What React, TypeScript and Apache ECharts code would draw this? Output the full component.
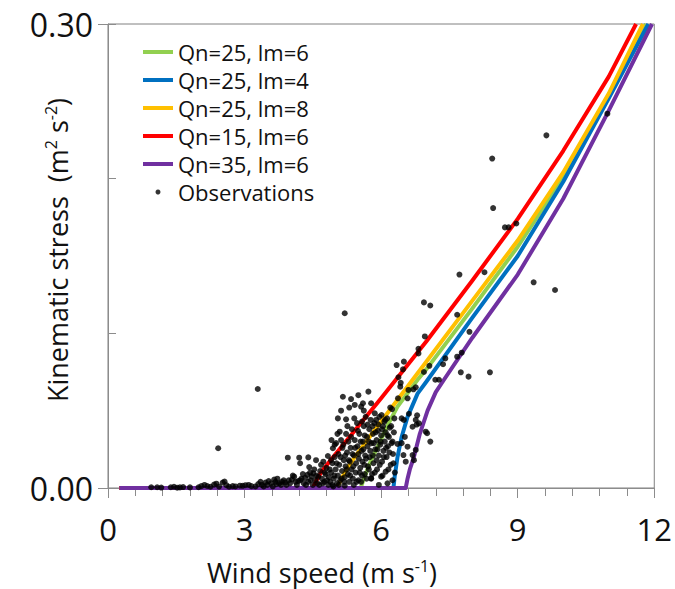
import React, { useEffect, useRef } from "react";
import * as echarts from "echarts";

// ---- Model curves (wind speed m/s, kinematic stress m2/s2) ----
const greenWind = [0.25, 5.55, 5.62, 5.75, 5.93, 6.15, 6.36, 6.8, 7, 8, 9, 10, 11, 11.82];
const greenStress = [0, 0, 0.006, 0.016, 0.027, 0.041, 0.0526, 0.07, 0.077, 0.116, 0.156, 0.201, 0.254, 0.3];

const blueWind = [0.25, 6.27, 6.3, 6.36, 6.45, 6.58, 6.8, 7, 8, 9, 10, 11, 11.87];
const blueStress = [0, 0, 0.008, 0.02, 0.033, 0.046, 0.061, 0.069, 0.11, 0.15, 0.198, 0.252, 0.3];

const yellowWind = [0.25, 5.02, 5.08, 5.2, 5.42, 6, 7, 8, 9, 10, 11, 11.75];
const yellowStress = [0, 0, 0.003, 0.01, 0.02, 0.043, 0.082, 0.121, 0.16, 0.204, 0.255, 0.3];

const redWind = [0.25, 4.5, 4.6, 4.7, 5, 6, 7, 8, 9, 10, 11, 11.6];
const redStress = [0, 0, 0.006, 0.011, 0.022, 0.058, 0.095, 0.134, 0.174, 0.218, 0.266, 0.3];

const purpleWind = [0.25, 6.54, 6.58, 6.63, 6.72, 6.85, 7.02, 7.2, 7.38, 8, 9, 10, 11, 11.95];
const purpleStress = [0, 0, 0.006, 0.012, 0.02, 0.035, 0.05, 0.062, 0.07, 0.097, 0.138, 0.187, 0.244, 0.3];

const seriesNames = ["Qn=25, lm=6", "Qn=25, lm=4", "Qn=25, lm=8", "Qn=15, lm=6", "Qn=35, lm=6"];
const seriesColors = ["#92D050", "#0070C0", "#FFC000", "#FF0000", "#7030A0"];

// ---- Observations ----
const obsWind = [
  0.95, 1.08, 1.17, 1.38, 1.45, 1.52, 1.58, 1.65, 1.8, 1.99, 2.05, 2.12, 2.18, 2.25, 2.33, 2.38, 2.44, 2.42, 2.52, 2.56,
  2.6, 2.66, 2.74, 2.8, 2.9, 2.96, 3.02, 3.09, 3.15, 3.24, 3.29, 3.3, 3.38, 3.46, 3.53, 3.58, 3.65, 3.7, 3.76, 3.82,
  3.89, 3.95, 3.97, 4.04, 4.09, 4.12, 4.18, 4.2, 4.22, 4.25, 4.3, 4.33, 4.38, 4.4, 4.42, 4.45, 4.47, 4.51, 4.55, 4.57,
  4.6, 4.62, 4.66, 4.7, 4.73, 4.75, 4.78, 4.8, 4.83, 4.85,
  4.88, 4.9, 4.91, 4.93, 4.94, 4.96, 4.98, 5.0, 5.01, 5.03, 5.05, 5.06, 5.08, 5.09, 5.1, 5.12, 5.14, 5.15, 5.16, 5.18,
  5.2, 5.2, 5.22, 5.23, 5.23, 5.25, 5.27, 5.28, 5.3, 5.31, 5.33, 5.34, 5.35, 5.36, 5.38, 5.4, 5.42, 5.42, 5.44, 5.45,
  5.47, 5.48, 5.5, 5.51, 5.52, 5.54, 5.56, 5.57, 5.58, 5.6, 5.6, 5.62, 5.63, 5.65, 5.66, 5.68, 5.69, 5.7, 5.72, 5.73,
  5.74, 5.75, 5.77, 5.78, 5.79, 5.8, 5.82, 5.83, 5.85, 5.86, 5.87, 5.89, 5.9, 5.91, 5.93, 5.95, 5.96, 5.98, 6.0, 6.01,
  6.02, 6.04, 6.05, 6.07, 6.08, 6.1, 6.12, 6.13, 6.15, 6.17, 6.19, 6.2, 6.21, 6.23, 6.24, 6.26, 6.28, 6.3,
  5.56, 5.78, 6.0, 6.1, 6.14, 5.95, 5.4, 5.2, 4.95, 6.25,
  6.34, 6.36, 6.37, 6.38, 6.42, 6.43, 6.45, 6.45, 6.48, 6.49, 6.5, 6.5, 6.52, 6.54, 6.58, 6.58, 6.6, 6.61, 6.69, 6.69,
  6.71, 6.72, 6.76, 6.76, 6.76, 6.78, 6.79, 6.82, 6.82, 6.83, 6.94, 6.94, 6.96, 6.98, 7.01, 7.06, 7.08, 7.08, 7.19, 7.27,
  7.36, 7.41, 7.67, 7.67, 7.72, 7.75, 7.77, 7.92, 7.94, 8.27, 8.39, 8.44, 8.46, 8.72, 8.8, 8.97, 9.35, 9.63, 9.82, 10.97,
  3.35, 3.42, 3.5, 3.62, 3.68, 3.72, 3.8, 3.86, 3.92, 4.0, 4.06, 4.15, 4.22, 4.28, 4.35, 4.4, 4.44, 4.5, 4.53, 4.58,
  4.64, 4.68, 4.72, 4.76, 4.81, 4.84, 4.87, 4.9, 4.93, 4.97,
  5.02, 5.04, 5.07, 5.11, 5.13, 5.17, 5.19, 5.21, 5.24, 5.26, 5.29, 5.32, 5.34, 5.37, 5.39, 5.41, 5.43, 5.46, 5.49, 5.5,
  5.53, 5.55, 5.58, 5.59, 5.61, 5.64, 5.64, 5.67, 5.7, 5.71, 5.73, 5.76, 5.78, 5.81, 5.82, 5.84, 5.86, 5.88, 5.9, 5.92,
  5.94, 5.97, 5.99, 6.02, 6.03, 6.06, 6.09, 6.11, 6.14, 6.16, 6.18, 6.22, 6.25, 6.27, 6.29,
  4.98, 5.05, 5.12, 5.3, 5.5, 5.62,
];
const obsStress = [
  0.0005, 0.0005, 0.0003, 0.0005, 0.0008, 0.0002, 0.0004, 0.0006, 0.0004, 0.0005, 0.0012, 0.002, 0.0013, 0.0008, 0.0022, 0.0028, 0.0009, 0.0257, 0.0035, 0.0042,
  0.0018, 0.0008, 0.0012, 0.001, 0.0015, 0.0014, 0.0018, 0.002, 0.0012, 0.001, 0.064, 0.0025, 0.002, 0.0035, 0.0045, 0.003, 0.0055, 0.0025, 0.003, 0.004,
  0.0035, 0.0196, 0.005, 0.0055, 0.0073, 0.004, 0.0045, 0.0196, 0.016, 0.006, 0.003, 0.0065, 0.0085, 0.0198, 0.0135, 0.005, 0.0075, 0.0095, 0.005, 0.018,
  0.003, 0.0073, 0.011, 0.006, 0.017, 0.004, 0.009, 0.013, 0.0207, 0.007,
  0.004, 0.01, 0.031, 0.016, 0.0257, 0.006, 0.02, 0.012, 0.029, 0.003, 0.008, 0.022, 0.015, 0.0364, 0.005, 0.031, 0.011, 0.026, 0.059, 0.018,
  0.113, 0.007, 0.014, 0.0444, 0.035, 0.023, 0.009, 0.03, 0.004, 0.017, 0.026, 0.0575, 0.012, 0.038, 0.006, 0.021, 0.0537, 0.031, 0.01, 0.016,
  0.042, 0.027, 0.005, 0.019, 0.035, 0.013, 0.0526, 0.024, 0.008, 0.0548, 0.03, 0.04, 0.015, 0.021, 0.046, 0.006, 0.033, 0.027, 0.0623, 0.012,
  0.038, 0.02, 0.044, 0.0548, 0.029, 0.009, 0.035, 0.016, 0.042, 0.0483, 0.025, 0.044, 0.031, 0.012, 0.037, 0.021, 0.046, 0.028, 0.034, 0.0472,
  0.017, 0.04, 0.024, 0.0429, 0.03, 0.036, 0.02, 0.045, 0.027, 0.033, 0.039, 0.052, 0.015, 0.029, 0.051, 0.022, 0.036, 0.01,
  0.004, 0.0063, 0.0073, 0.0106, 0.003, 0.002, 0.002, 0.0015, 0.001, 0.005,
  0.0795, 0.0285, 0.058, 0.0716, 0.0655, 0.068, 0.029, 0.045, 0.0767, 0.0213, 0.0817, 0.044, 0.033, 0.017, 0.0267, 0.058, 0.0634, 0.048, 0.0213, 0.0396,
  0.0638, 0.018, 0.0651, 0.044, 0.0246, 0.041, 0.047, 0.09, 0.087, 0.0418, 0.12, 0.075, 0.098, 0.0364, 0.0354, 0.079, 0.118, 0.03, 0.07, 0.07,
  0.08, 0.0838, 0.0849, 0.112, 0.138, 0.0748, 0.0875, 0.072, 0.101, 0.1395, 0.0748, 0.213, 0.181, 0.1685, 0.1685, 0.171, 0.133, 0.228, 0.128, 0.242,
  0.004, 0.001, 0.002, 0.001, 0.004, 0.006, 0.002, 0.005, 0.002, 0.003, 0.008, 0.002, 0.005, 0.009, 0.002, 0.004, 0.01, 0.002, 0.012, 0.008,
  0.002, 0.015, 0.003, 0.01, 0.005, 0.002, 0.012, 0.018, 0.002, 0.008,
  0.016, 0.035, 0.002, 0.02, 0.006, 0.028, 0.004, 0.021, 0.012, 0.04, 0.018, 0.008, 0.033, 0.022, 0.014, 0.045, 0.026, 0.004, 0.037, 0.022,
  0.01, 0.03, 0.043, 0.017, 0.025, 0.034, 0.009, 0.019, 0.041, 0.014, 0.03, 0.024, 0.006, 0.04, 0.021, 0.029, 0.01, 0.036, 0.018, 0.025,
  0.041, 0.015, 0.03, 0.038, 0.008, 0.02, 0.044, 0.026, 0.034, 0.012, 0.023, 0.04, 0.03, 0.016, 0.045,
  0.028, 0.045, 0.05, 0.052, 0.06, 0.05,
];

const zip = (xs: number[], ys: number[]) => xs.map((x, i) => [x, ys[i]]);

const curves = [
  zip(greenWind, greenStress),
  zip(blueWind, blueStress),
  zip(yellowWind, yellowStress),
  zip(redWind, redStress),
  zip(purpleWind, purpleStress),
];

const FONT = "Open Sans";
const TXT = "#111";

export default function App() {
  const ref = useRef<HTMLDivElement>(null);

  useEffect(() => {
    document.body.style.margin = "0";
    if (!ref.current) return;
    const chart = echarts.init(ref.current, undefined, { renderer: "svg" });

    const lineSeries = curves.map((data, i) => ({
      name: seriesNames[i],
      type: "line",
      data,
      symbol: "none",
      showSymbol: false,
      smooth: false,
      clip: true,
      lineStyle: { color: seriesColors[i], width: 4, join: "round" },
      itemStyle: { color: seriesColors[i] },
      z: 2 + i,
    }));

    const titleRich = {
      a: { fontSize: 27, fontFamily: FONT, fill: TXT, lineHeight: 28 },
      s: { fontSize: 16, fontFamily: FONT, fill: TXT, lineHeight: 14, verticalAlign: "top" },
    };

    chart.setOption({
      animation: false,
      backgroundColor: "#fff",
      textStyle: { fontFamily: FONT },
      grid: {
        left: 108,
        right: 16,
        top: 24,
        bottom: 101,
        show: true,
        borderColor: "#808080",
        borderWidth: 1,
        backgroundColor: "transparent",
      },
      legend: {
        orient: "vertical",
        left: 136,
        top: 33,
        itemWidth: 30,
        itemHeight: 5,
        itemGap: 0,
        lineStyle: { width: 4 },
        textStyle: { fontSize: 22, fontFamily: FONT, color: TXT, lineHeight: 28 },
        data: [
          ...seriesNames.map((n) => ({ name: n })),
          { name: "Observations", icon: "circle" },
        ],
      },
      xAxis: {
        type: "value",
        min: 0,
        max: 12,
        interval: 3,
        axisLine: { show: true, lineStyle: { color: "#8c8c8c", width: 1 } },
        axisTick: { show: true, length: 10, lineStyle: { color: "#8c8c8c" } },
        minorTick: { show: true, splitNumber: 5, length: 8, lineStyle: { color: "#8c8c8c" } },
        splitLine: { show: false },
        minorSplitLine: { show: false },
        axisLabel: { fontSize: 31, fontFamily: FONT, color: TXT, margin: 25 },
      },
      yAxis: [
        {
          type: "value",
          min: 0,
          max: 0.3,
          interval: 0.3,
          position: "left",
          axisLine: { show: true, lineStyle: { color: "#8c8c8c", width: 1 } },
          axisTick: { show: true, length: 10, lineStyle: { color: "#8c8c8c" } },
          splitLine: { show: false },
          axisLabel: {
            fontSize: 32,
            fontFamily: FONT,
            color: TXT,
            margin: 15,
            formatter: (v: number) => v.toFixed(2),
          },
        },
        {
          type: "value",
          min: 0,
          max: 0.3,
          interval: 0.1,
          position: "left",
          axisLine: { show: false },
          axisTick: { show: true, inside: true, length: 8, lineStyle: { color: "#8c8c8c" } },
          splitLine: { show: false },
          axisLabel: { show: false },
        },
      ],
      graphic: [
        {
          type: "text",
          x: 322,
          y: 572,
          style: {
            text: "{a|Wind speed (m s}{s|-1}{a|)}",
            align: "center",
            verticalAlign: "middle",
            rich: titleRich,
          },
        },
        {
          type: "text",
          x: 57,
          y: 250,
          rotation: Math.PI / 2,
          style: {
            text: "{a|Kinematic stress  (m}{s|2}{a| s}{s|-2}{a|)}",
            align: "center",
            verticalAlign: "middle",
            rich: titleRich,
          },
        },
      ],
      series: [
        ...lineSeries,
        {
          name: "Observations",
          type: "scatter",
          data: zip(obsWind, obsStress),
          symbol: "circle",
          symbolSize: 6,
          itemStyle: { color: "#000" },
          z: 10,
        },
      ],
    });

    return () => chart.dispose();
  }, []);

  return (
    <div
      ref={ref}
      style={{ position: "absolute", left: 0, top: 0, width: 675, height: 589, background: "#fff" }}
    />
  );
}
